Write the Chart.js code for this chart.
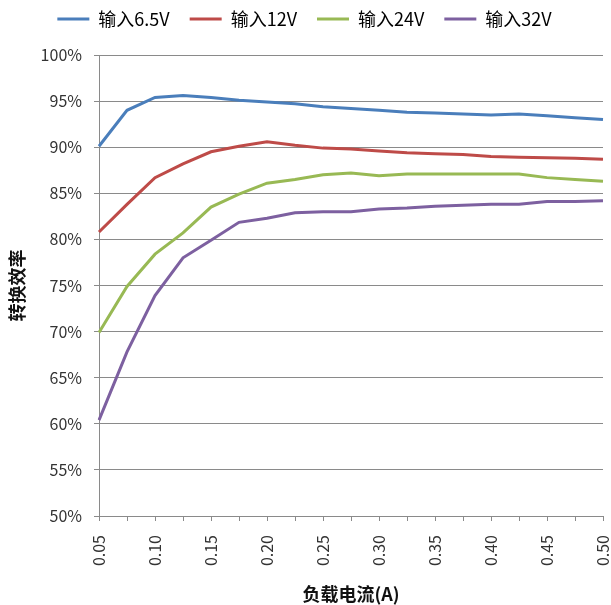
<!DOCTYPE html>
<html>
<head>
<meta charset="utf-8">
<script src="https://cdn.jsdelivr.net/npm/chart.js@4.4.1/dist/chart.umd.min.js"></script>
<style>
  html, body { margin: 0; padding: 0; background: #fff; }
  #wrap { width: 611px; height: 605px; position: relative; }
</style>
</head>
<body>
<div id="wrap"><canvas id="effChart"></canvas></div>
<script>
const loads = ['0.05', '0.075', '0.10', '0.125', '0.15', '0.175', '0.20', '0.225', '0.25', '0.275',
  '0.30', '0.325', '0.35', '0.375', '0.40', '0.425', '0.45', '0.475', '0.50'];

const eff6v5 = [90.1, 94.0, 95.4, 95.6, 95.4, 95.1, 94.9, 94.7, 94.4, 94.2,
  94.0, 93.8, 93.7, 93.6, 93.5, 93.6, 93.4, 93.2, 93.0];
const eff12 = [80.8, 83.8, 86.7, 88.2, 89.5, 90.1, 90.6, 90.2, 89.9, 89.8,
  89.6, 89.4, 89.3, 89.2, 89.0, 88.9, 88.85, 88.8, 88.7];
const eff24 = [69.9, 74.9, 78.4, 80.7, 83.5, 84.9, 86.1, 86.5, 87.0, 87.2,
  86.9, 87.1, 87.1, 87.1, 87.1, 87.1, 86.7, 86.5, 86.3];
const eff32 = [60.4, 67.8, 73.9, 78.0, 79.9, 81.85, 82.3, 82.9, 83.0, 83.0,
  83.3, 83.4, 83.6, 83.7, 83.8, 83.8, 84.1, 84.1, 84.2];

const seriesNames = ['输入6.5V', '输入12V', '输入24V', '输入32V'];
const colors = ['#4a7ebb', '#be4b48', '#98b954', '#7d60a0'];

const FONT = "'Noto Sans CJK SC', 'Noto Sans', sans-serif";
const GRID = '#8a8a8a';

function makeDataset(label, data, color) {
  return {
    label,
    data,
    borderColor: color,
    backgroundColor: color,
    borderWidth: 3,
    pointRadius: 0,
    tension: 0,
    fill: false
  };
}

// push the plot area down a bit below the legend
const legendGap = {
  id: 'legendGap',
  beforeInit(chart) {
    const fit = chart.legend.fit;
    chart.legend.fit = function () {
      fit.call(this);
      this.height += 17;
    };
  }
};

const ctx = document.getElementById('effChart').getContext('2d');
new Chart(ctx, {
  type: 'line',
  data: {
    labels: loads,
    datasets: [
      makeDataset(seriesNames[0], eff6v5, colors[0]),
      makeDataset(seriesNames[1], eff12, colors[1]),
      makeDataset(seriesNames[2], eff24, colors[2]),
      makeDataset(seriesNames[3], eff32, colors[3])
    ]
  },
  plugins: [legendGap],
  options: {
    responsive: true,
    maintainAspectRatio: false,
    animation: false,
    layout: { padding: { left: 6, right: 8, top: -10, bottom: 0 } },
    plugins: {
      tooltip: { enabled: false },
      legend: {
        position: 'top',
        labels: {
          color: '#222',
          font: { family: FONT, size: 18 },
          boxWidth: 32,
          boxHeight: 3,
          padding: 20,
          generateLabels(chart) {
            return chart.data.datasets.map((ds, i) => ({
              text: ds.label,
              fillStyle: ds.borderColor,
              strokeStyle: ds.borderColor,
              lineWidth: 0,
              datasetIndex: i,
              hidden: false
            }));
          }
        }
      }
    },
    scales: {
      x: {
        type: 'category',
        offset: false,
        border: { color: GRID, width: 1 },
        grid: { display: true, drawOnChartArea: false, drawTicks: true, tickLength: 5, color: GRID },
        ticks: {
          autoSkip: false,
          maxRotation: 90,
          minRotation: 90,
          color: '#333',
          font: { family: FONT, size: 16 },
          padding: 14,
          callback(val, idx) {
            return idx % 2 === 0 ? loads[idx] : '';
          }
        },
        title: {
          display: true,
          text: '负载电流(A)',
          color: '#111',
          font: { family: FONT, size: 18, weight: 'bold' },
          padding: { top: 0, bottom: 0 }
        },
        afterFit(scale) {
          scale.height = 89;
          scale.paddingRight = 0;
          scale.paddingLeft = 0;
        }
      },
      y: {
        min: 50,
        max: 100,
        border: { color: GRID, width: 1 },
        grid: { color: GRID, lineWidth: 1, drawTicks: true, tickLength: 5 },
        ticks: {
          stepSize: 5,
          color: '#333',
          font: { family: FONT, size: 16 },
          padding: 12,
          callback(v) { return v + '%'; }
        },
        title: {
          display: true,
          text: '转换效率',
          color: '#111',
          font: { family: FONT, size: 18, weight: 'bold' },
          padding: { top: 0, bottom: 0 }
        },
        afterFit(scale) { scale.width = 93; }
      }
    }
  }
});
</script>
</body>
</html>
